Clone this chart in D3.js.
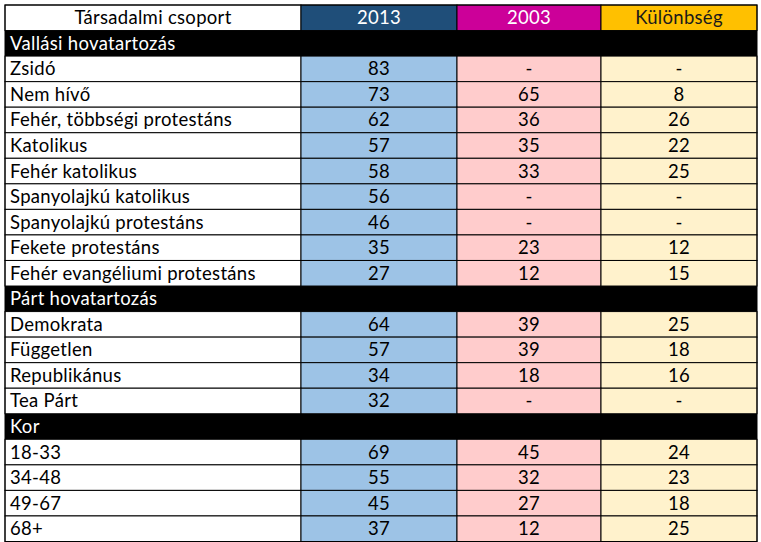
<!DOCTYPE html>
<html>
<head>
<meta charset="utf-8">
<script src="https://cdn.jsdelivr.net/npm/d3@7"></script>
<style>
  body { margin: 0; background: #fff; }
  svg text { font-family: Lato, "Open Sans", sans-serif; font-size: 18.5px; letter-spacing: 0.3px; }
</style>
</head>
<body>
<svg id="tbl" width="761" height="542"></svg>
<script>
var headers = ['Társadalmi csoport', '2013', '2003', 'Különbség'];

// each row: section title or [label, 2013, 2003, különbség]
var sections = ['Vallási hovatartozás', 'Párt hovatartozás', 'Kor'];
var labels = [
    ['Zsidó', 'Nem hívő', 'Fehér, többségi protestáns', 'Katolikus', 'Fehér katolikus',
     'Spanyolajkú katolikus', 'Spanyolajkú protestáns', 'Fekete protestáns', 'Fehér evangéliumi protestáns'],
    ['Demokrata', 'Független', 'Republikánus', 'Tea Párt'],
    ['18-33', '34-48', '49-67', '68+']
];
var v2013 = [
    [83, 73, 62, 57, 58, 56, 46, 35, 27],
    [64, 57, 34, 32],
    [69, 55, 45, 37]
];
var v2003 = [
    [null, 65, 36, 35, 33, null, null, 23, 12],
    [39, 39, 18, null],
    [45, 32, 27, 12]
];
var diff = [
    [null, 8, 26, 22, 25, null, null, 12, 15],
    [25, 18, 16, null],
    [24, 23, 18, 25]
];

var headFill = ['#ffffff', '#1f4e79', '#cc0099', '#ffc000'];
var headText = ['#000000', '#ffffff', '#ffffff', '#1a1a1a'];
var cellFill = ['#ffffff', '#9dc3e6', '#ffcccc', '#fff2cc'];

// build row list
var rows = [{ type: 'head' }];
sections.forEach((s, i) => {
    rows.push({ type: 'section', label: s });
    labels[i].forEach((l, j) => {
        rows.push({ type: 'data', cells: [l, v2013[i][j], v2003[i][j], diff[i][j]] });
    });
});

var svg = d3.select('#tbl');
var x0Tbl = 5, y0Tbl = 5, x1Tbl = 757, y1Tbl = 541.5;
var colEdges = [x0Tbl, 301, 457, 601, x1Tbl];

var yScale = d3.scaleBand()
    .domain(d3.range(rows.length))
    .range([y0Tbl, y1Tbl]);
var h = yScale.bandwidth();

var fmt = v => (v === null ? '-' : v);

var g = svg.append('g');

rows.forEach((r, i) => {
    var y = yScale(i);
    if (r.type === 'section') {
        g.append('rect')
            .attr('x', x0Tbl).attr('y', y)
            .attr('width', x1Tbl - x0Tbl).attr('height', h)
            .attr('fill', '#000');
        g.append('text')
            .attr('x', x0Tbl + 5).attr('y', y + h / 2)
            .attr('dy', '0.35em')
            .attr('fill', '#fff')
            .text(r.label);
        return;
    }
    var cells = r.type === 'head' ? headers : r.cells;
    cells.forEach((c, k) => {
        var a = colEdges[k], b = colEdges[k + 1];
        g.append('rect')
            .attr('x', a).attr('y', y)
            .attr('width', b - a).attr('height', h)
            .attr('fill', r.type === 'head' ? headFill[k] : cellFill[k])
            .attr('stroke', '#000')
            .attr('stroke-width', 1);
        var alignLeft = r.type === 'data' && k === 0;
        g.append('text')
            .attr('x', alignLeft ? a + 5 : (a + b) / 2)
            .attr('y', y + h / 2)
            .attr('dy', '0.35em')
            .attr('text-anchor', alignLeft ? 'start' : 'middle')
            .attr('fill', r.type === 'head' ? headText[k] : '#000')
            .text(r.type === 'head' ? c : (k === 0 ? c : fmt(c)));
    });
});

// outer border
g.append('rect')
    .attr('x', x0Tbl).attr('y', y0Tbl)
    .attr('width', x1Tbl - x0Tbl).attr('height', y1Tbl - y0Tbl)
    .attr('fill', 'none')
    .attr('stroke', '#000');
</script>
</body>
</html>
